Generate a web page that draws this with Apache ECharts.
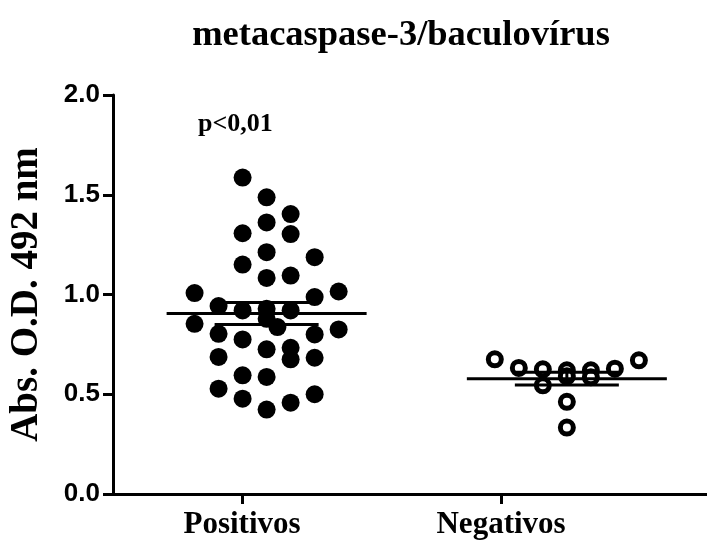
<!DOCTYPE html>
<html>
<head>
<meta charset="utf-8">
<script src="https://cdn.jsdelivr.net/npm/echarts@6/dist/echarts.min.js"></script>
<style>html,body{margin:0;padding:0;background:#fff;}#c{width:707px;height:542px;}</style>
</head>
<body>
<div id="c"></div>
<script>
// ---- data ----
const categories = ['Positivos', 'Negativos'];
const yTicks = [0, 0.5, 1.0, 1.5, 2.0];
const positivosValues = [1.586, 1.487, 1.403, 1.361, 1.307, 1.303, 1.212, 1.187, 1.150, 1.083, 1.095,
  1.007, 1.015, 0.987, 0.942, 0.920, 0.928, 0.920, 0.878, 0.853, 0.837, 0.825, 0.803, 0.800, 0.775,
  0.725, 0.733, 0.675, 0.687, 0.683, 0.595, 0.587, 0.528, 0.500, 0.478, 0.458, 0.423];
const negativosValues = [0.675, 0.632, 0.625, 0.620, 0.620, 0.628, 0.670, 0.462, 0.333, 0.545, 0.585, 0.590];
const groupMeans = [0.905, 0.578];
const groupSEM = [0.055, 0.032];
const pValueText = 'p<0,01';

// ---- layout (swarm columns of the dot plot, not data) ----
const posCols = [-1, 0, 1, 0, -1, 1, 0, 2, -1, 0, 1, -3, 3, 2, -2, -1, 0, 1, 0, -3, 0.45, 3, -2, 2, -1,
  0, 1, 1, -2, 2, -1, 0, -2, 2, -1, 1, 0];
const negCols = [-3, -2, -1, 0, 1, 2, 3, 0, 0, -1, 1, 0];
const groupCenters = [1.095, 2.254];
const colStep = 0.0927;

const posData = positivosValues.map((v, i) => [groupCenters[0] + posCols[i] * colStep, v]);
const negData = negativosValues.map((v, i) => [groupCenters[1] + negCols[i] * colStep, v]);
const meanData = groupMeans.map((m, i) => [groupCenters[i], m, groupSEM[i]]);

const serif = '"Liberation Serif", "Times New Roman", serif';
const sans = '"Liberation Sans", Arial, sans-serif';

const chart = echarts.init(document.getElementById('c'), null, {renderer: 'canvas'});
chart.setOption({
  animation: false,
  backgroundColor: '#fff',
  title: {
    text: 'metacaspase-3/baculovírus',
    left: 396, top: 12, textAlign: 'center',
    textStyle: {fontFamily: serif, fontWeight: 'bold', fontSize: 36.5, color: '#000'}
  },
  graphic: [{
    type: 'text', left: 198, top: 111,
    style: {text: pValueText, font: 'bold 26px ' + serif, fill: '#000'}
  }],
  grid: {left: 113, top: 95, right: 0, bottom: 48, containLabel: false, outerBoundsMode: 'none'},
  xAxis: {
    type: 'value', min: 0.502, max: 2.795,
    axisLine: {show: true, lineStyle: {color: '#000', width: 3}},
    axisTick: {show: true, customValues: [1, 2], length: 10, lineStyle: {color: '#000', width: 3}},
    axisLabel: {show: true, customValues: [1, 2], margin: 15,
      formatter: v => categories[Math.round(v) - 1] || '',
      fontFamily: serif, fontWeight: 'bold', fontSize: 31, color: '#000'},
    splitLine: {show: false}
  },
  yAxis: {
    type: 'value', min: 0, max: 2, interval: 0.5,
    name: 'Abs. O.D. 492 nm', nameLocation: 'middle', nameRotate: 90, nameGap: 67,
    nameTextStyle: {fontFamily: serif, fontWeight: 'bold', fontSize: 39, color: '#000'},
    axisLine: {show: true, lineStyle: {color: '#000', width: 3}},
    axisTick: {show: true, length: 10, lineStyle: {color: '#000', width: 3}},
    axisLabel: {margin: 13, formatter: v => v.toFixed(1),
      fontFamily: sans, fontWeight: 'bold', fontSize: 26, color: '#000'},
    splitLine: {show: false}
  },
  series: [
    {type: 'scatter', data: posData, symbol: 'circle', symbolSize: 18,
      itemStyle: {color: '#000', opacity: 1}, z: 2},
    {type: 'scatter', data: negData, symbol: 'circle', symbolSize: 13,
      itemStyle: {color: '#fff', borderColor: '#000', borderWidth: 5, opacity: 1}, z: 2},
    {type: 'custom', data: meanData, z: 3,
      renderItem: (params, api) => {
        const x = api.value(0), m = api.value(1), s = api.value(2);
        const c = api.coord([x, m]);
        const up = api.coord([x, m + s]);
        const lo = api.coord([x, m - s]);
        const st = {stroke: '#000', lineWidth: 3};
        return {type: 'group', children: [
          {type: 'line', shape: {x1: c[0] - 100, y1: c[1], x2: c[0] + 100, y2: c[1]}, style: st},
          {type: 'line', shape: {x1: c[0] - 52, y1: up[1], x2: c[0] + 52, y2: up[1]}, style: st},
          {type: 'line', shape: {x1: c[0] - 52, y1: lo[1], x2: c[0] + 52, y2: lo[1]}, style: st},
          {type: 'line', shape: {x1: c[0], y1: up[1], x2: c[0], y2: lo[1]}, style: st}
        ]};
      }}
  ]
});
</script>
</body>
</html>
